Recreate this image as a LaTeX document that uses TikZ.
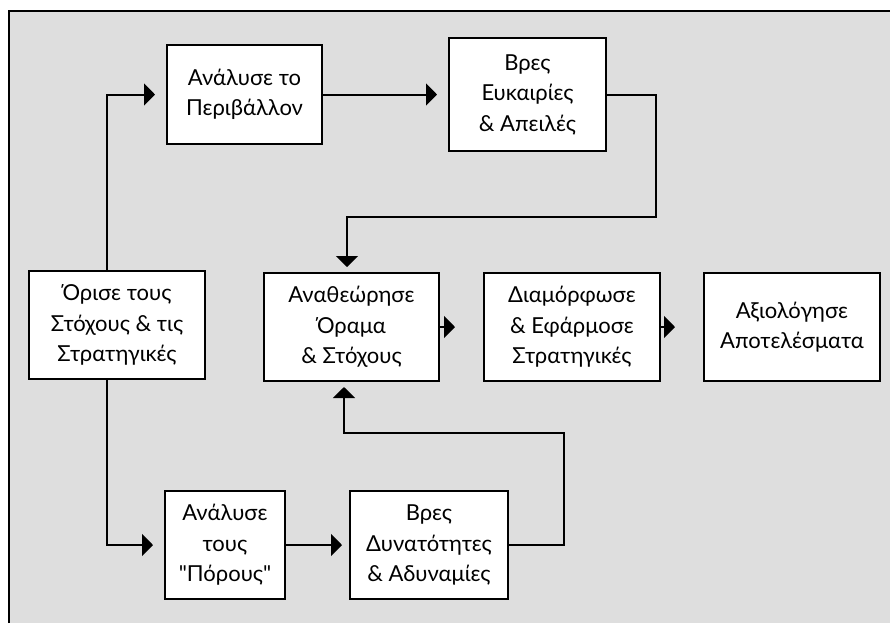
\documentclass[tikz,border=0pt]{standalone}
\usepackage{fontspec}
\setmainfont{Lato}
\usetikzlibrary{arrows.meta}

\definecolor{fonto}{HTML}{DEDEDE}

\tikzset{
  kouti/.style={draw, line width=1pt, fill=white, align=center, inner sep=2pt,
    font=\fontsize{11}{15.25}\selectfont},
  velos/.style={line width=1pt, -{Triangle[length=5.5pt,width=11pt]}, shorten >=5.5pt},
}

\begin{document}
\begin{tikzpicture}[x=0.5pt,y=-0.5pt]
  \useasboundingbox (0,0) rectangle (890,623);

	% Fondo
	\fill[fonto] (8.5,11) rectangle (890,623);
	\draw[line width=1pt] (8.5,623) -- (8.5,11) -- (890,11);

	% Kouti
	\node[kouti, minimum width=77.5pt, minimum height=49.5pt] (periv) at (244.5,94.5) {Ανάλυσε το\\Περιβάλλον};
	\node[kouti, minimum width=78.5pt, minimum height=56.5pt] (eukair) at (527.5,94.5) {Βρες\\Ευκαιρίες\\\& Απειλές};
	\node[kouti, minimum width=88pt, minimum height=54pt] (orise) at (117,325) {Όρισε τους\\Στόχους \& τις\\Στρατηγικές};
	\node[kouti, minimum width=87.5pt, minimum height=54pt] (anath) at (351.5,327) {Αναθεώρησε\\Όραμα\\\& Στόχους};
	\node[kouti, minimum width=88pt, minimum height=54pt] (diam) at (572,327) {Διαμόρφωσε\\\& Εφάρμοσε\\Στρατηγικές};
	\node[kouti, minimum width=88pt, minimum height=54pt] (axiol) at (792,327) {Αξιολόγησε\\Αποτελέσματα};
	\node[kouti, minimum width=60pt, minimum height=54pt] (poroi) at (225,545) {Ανάλυσε\\τους\\\textquotedbl Πόρους\textquotedbl};
	\node[kouti, minimum width=79pt, minimum height=54pt] (dynat) at (429,545) {Βρες\\Δυνατότητες\\\& Αδυναμίες};

	% Velos
	\draw[velos] ([xshift=-5pt]orise.north) |- (periv.west);
	\draw[velos] (periv.east) -- (eukair.west);
	\draw[velos, shorten >=2.5pt] (eukair.east) -| (656,217) -| ([xshift=-2.25pt]anath.north);
	\draw[velos] ([xshift=-5pt]orise.south) |- (poroi.west);
	\draw[velos, shorten >=3.5pt] (poroi.east) -- (dynat.west);
	\draw[velos, shorten >=2.5pt] (dynat.east) -| (564,433) -| ([xshift=-3.75pt]anath.south);
	\draw[velos, shorten >=14pt] (anath.east) -- (diam.west);
	\draw[velos, shorten >=14pt] (diam.east) -- (axiol.west);
\end{tikzpicture}
\end{document}
